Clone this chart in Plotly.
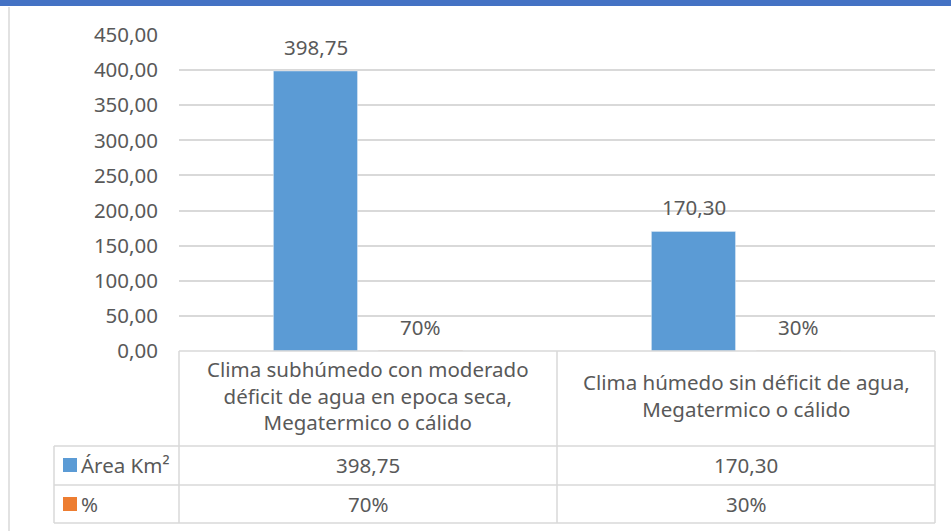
import plotly.graph_objects as go

categories = ["Clima subhúmedo con moderado<br>déficit de agua en epoca seca,<br>Megatermico o cálido",
              "Clima húmedo sin déficit de agua,<br>Megatermico o cálido"]
series_names = ["Área Km²", "%"]
area_values = [398.75, 170.30]
pct_values = [0.70, 0.30]
y_ticks = [0, 50, 100, 150, 200, 250, 300, 350, 400, 450]

BLUE = "#5B9BD5"
ORANGE = "#ED7D31"
TXT = "#595959"
GRID = "#D9D9D9"
FONT = "Noto Sans"
FS = 20.5

W, H = 951, 531
L, R, T, B = 179, 16, 35, 180
PW, PH = W - L - R, H - T - B


def px_x(px):
    return (px - L) / PW


def px_y(py):
    return (H - B - py) / PH


def fmt_num(v):
    return f"{v:.2f}".replace(".", ",")


def fmt_pct(v):
    return f"{v * 100:.0f}%"


fig = go.Figure()
fig.add_trace(go.Bar(x=categories, y=area_values, name=series_names[0],
                     marker_color=BLUE, showlegend=False))
fig.add_trace(go.Bar(x=categories, y=pct_values, name=series_names[1],
                     marker_color=ORANGE, showlegend=False))

annotations = []
shift = 52.5
for c, v in zip(categories, area_values):
    annotations.append(dict(x=c, y=v, xref="x", yref="y", text=fmt_num(v), showarrow=False,
                            xshift=-shift, yshift=24, yanchor="middle",
                            font=dict(family=FONT, size=FS, color=TXT)))
for c, v in zip(categories, pct_values):
    annotations.append(dict(x=c, y=v, xref="x", yref="y", text=fmt_pct(v), showarrow=False,
                            xshift=shift, yshift=24, yanchor="middle",
                            font=dict(family=FONT, size=FS, color=TXT)))

# data table
for c in categories:
    annotations.append(dict(x=c, y=px_y(395), xref="x", yref="paper", text=c, showarrow=False,
                            yanchor="middle", align="center",
                            font=dict(family=FONT, size=FS, color=TXT)))
for c, v in zip(categories, area_values):
    annotations.append(dict(x=c, y=px_y(465), xref="x", yref="paper", text=fmt_num(v),
                            showarrow=False, yanchor="middle",
                            font=dict(family=FONT, size=FS, color=TXT)))
for c, v in zip(categories, pct_values):
    annotations.append(dict(x=c, y=px_y(504), xref="x", yref="paper", text=fmt_pct(v),
                            showarrow=False, yanchor="middle",
                            font=dict(family=FONT, size=FS, color=TXT)))

row_y = [465, 504]
for name, col, ry in zip(series_names, [BLUE, ORANGE], row_y):
    annotations.append(dict(x=px_x(79), y=px_y(ry), xref="paper", yref="paper", text=name,
                            showarrow=False, xanchor="left", yanchor="middle",
                            font=dict(family=FONT, size=FS, color=TXT)))

shapes = []
# legend keys
for col, ry in zip([BLUE, ORANGE], row_y):
    shapes.append(dict(type="rect", xref="paper", yref="paper",
                       x0=px_x(63), x1=px_x(77), y0=px_y(ry - 7), y1=px_y(ry + 7),
                       fillcolor=col, line=dict(width=0)))

line = dict(color=GRID, width=1.5)
for py, x0 in [(351, 179), (446, 54), (485, 54), (523, 54)]:
    shapes.append(dict(type="line", xref="paper", yref="paper",
                       x0=px_x(x0), x1=px_x(935), y0=px_y(py), y1=px_y(py), line=line))
for px, y0 in [(179, 351), (557, 351), (935, 351), (54, 446)]:
    shapes.append(dict(type="line", xref="paper", yref="paper",
                       x0=px_x(px), x1=px_x(px), y0=px_y(y0), y1=px_y(523), line=line))
# frame decorations
shapes.append(dict(type="rect", xref="paper", yref="paper",
                   x0=px_x(0), x1=px_x(W), y0=px_y(6), y1=px_y(0),
                   fillcolor="#4472C4", line=dict(width=0), layer="above"))
shapes.append(dict(type="line", xref="paper", yref="paper",
                   x0=px_x(9), x1=px_x(9), y0=px_y(7), y1=px_y(H), line=dict(color=GRID, width=1.5)))

fig.update_layout(
    width=W, height=H,
    margin=dict(l=L, r=R, t=T, b=B),
    paper_bgcolor="white", plot_bgcolor="white",
    barmode="group", bargap=0.444, bargroupgap=0.2,
    separators=",.",
    font=dict(family=FONT, size=FS, color=TXT),
    xaxis=dict(showticklabels=False, showgrid=False, zeroline=False, showline=False),
    yaxis=dict(range=[0, 450], tickvals=y_ticks, tickformat=".2f", showgrid=True,
               gridcolor=GRID, gridwidth=1.5, zeroline=False, showline=False,
               ticks="", ticklabelstandoff=20,
               tickfont=dict(family=FONT, size=FS, color=TXT)),
    annotations=annotations,
    shapes=shapes,
)

fig.write_html("out.html", config={"displayModeBar": False},
               post_script="document.body.style.margin='0px';document.body.style.overflow='hidden';")
